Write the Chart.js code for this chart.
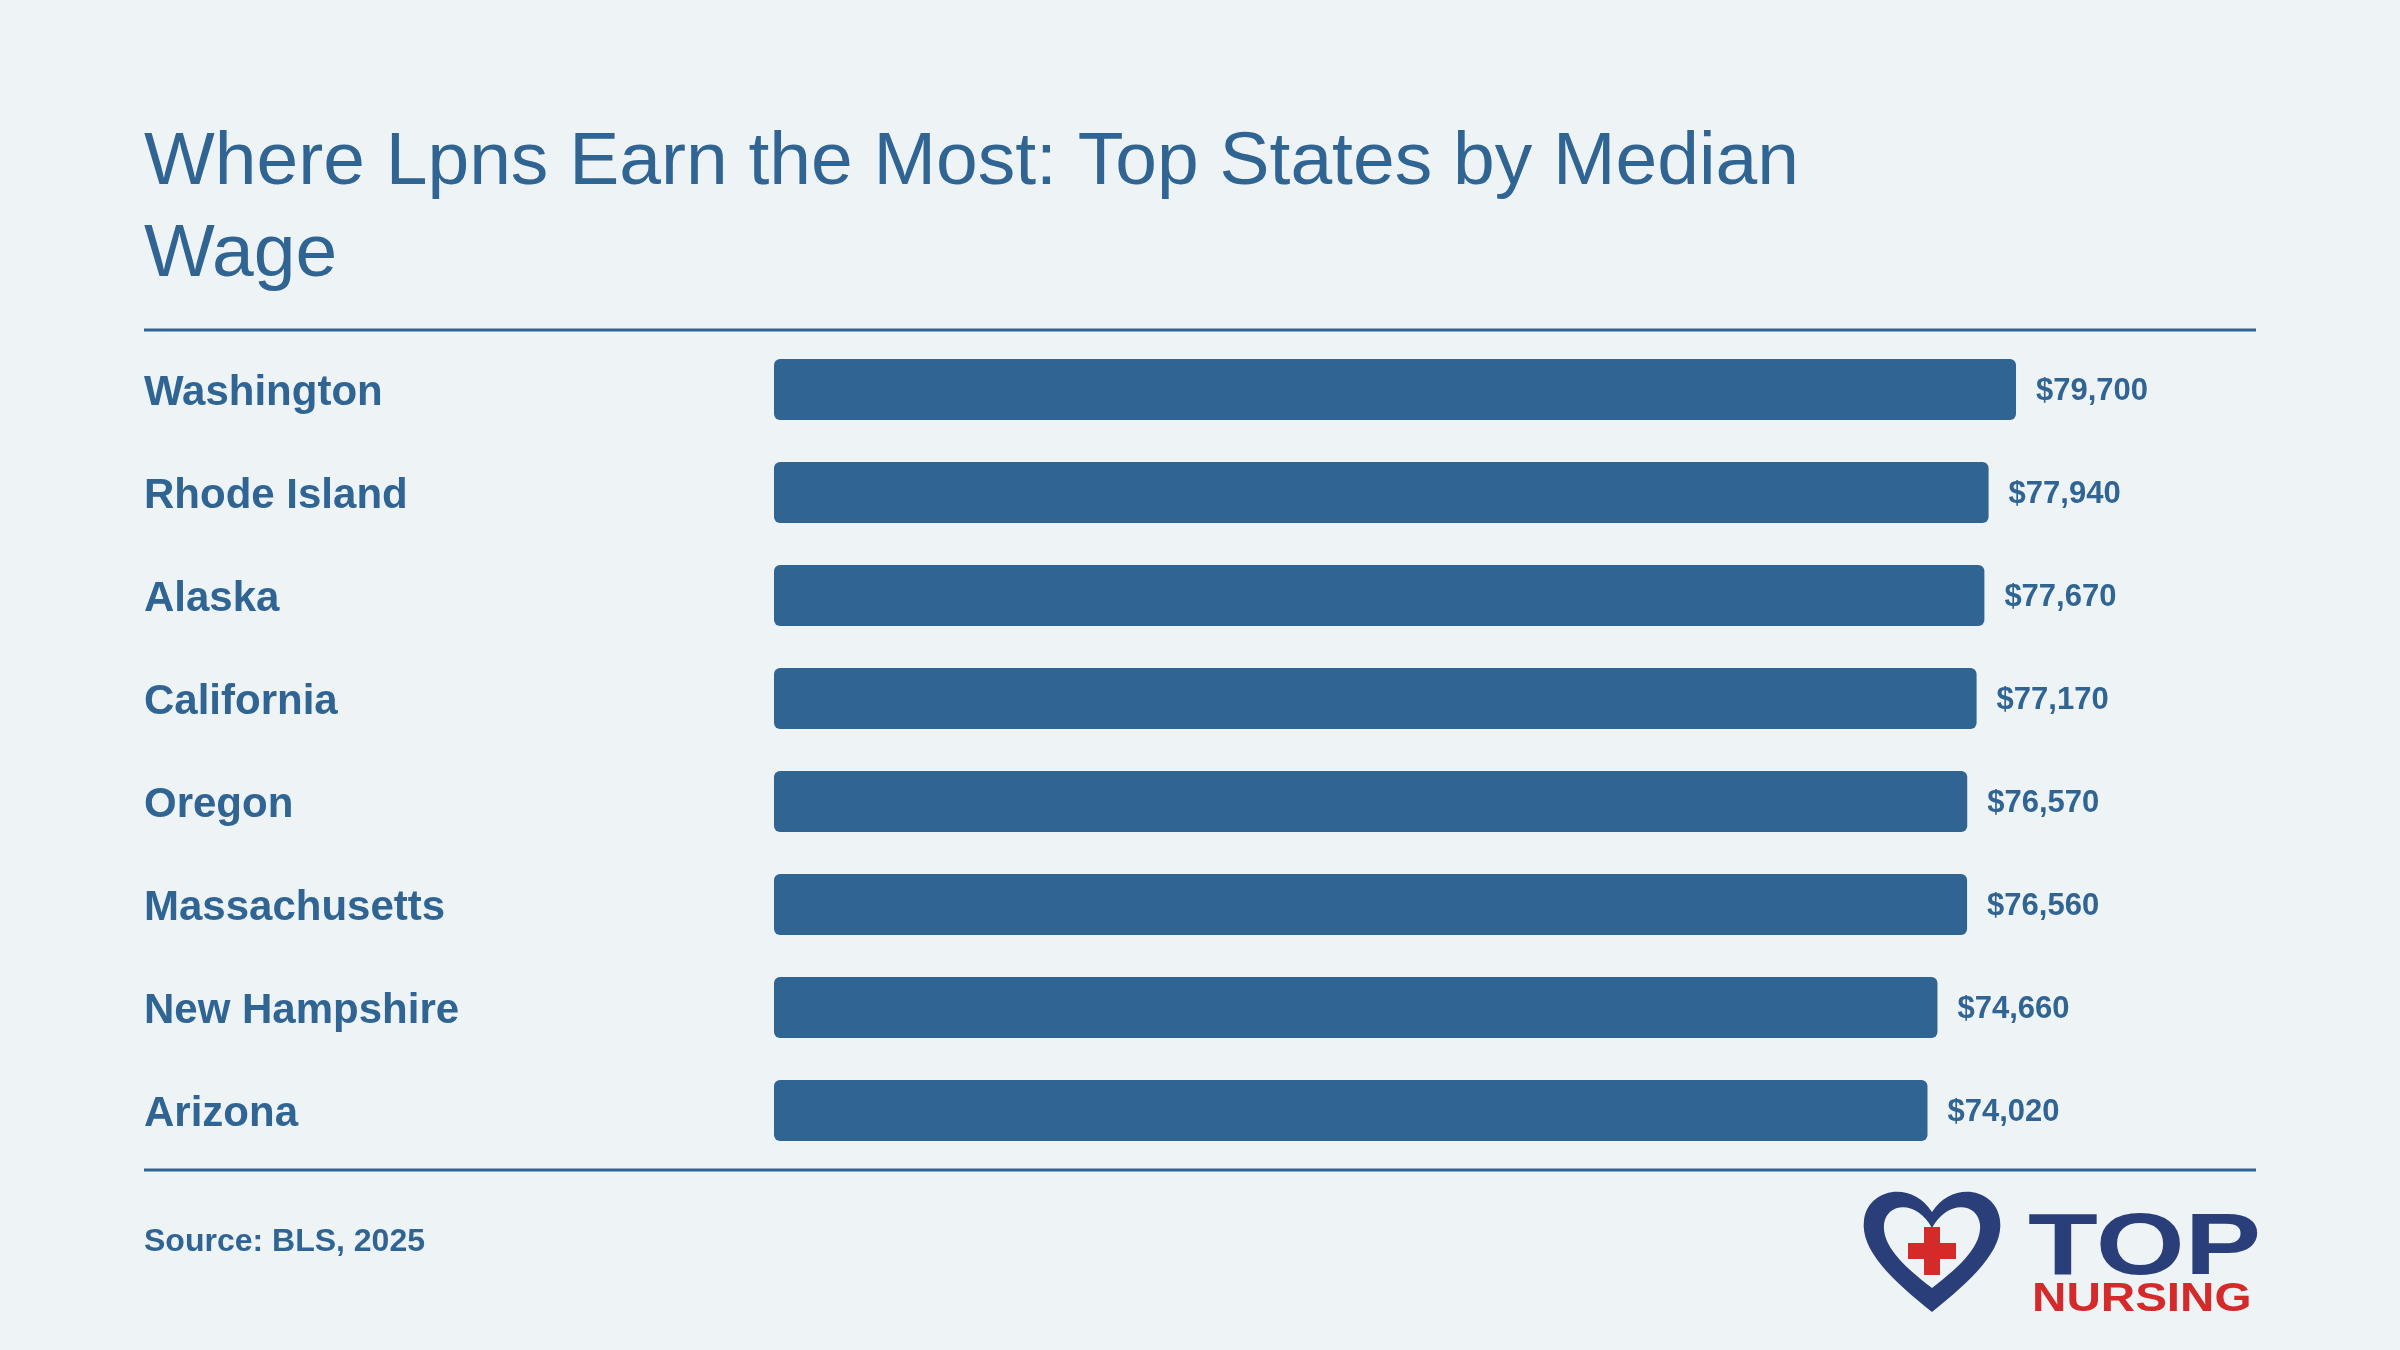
<!DOCTYPE html>
<html><head><meta charset="utf-8">
<script src="https://cdn.jsdelivr.net/npm/chart.js@4"></script>
<style>html,body{margin:0;padding:0;background:#eef3f6;}canvas{display:block;}</style>
</head><body>
<canvas id="c" width="2400" height="1350"></canvas>
<script>
const states = ["Washington","Rhode Island","Alaska","California","Oregon","Massachusetts","New Hampshire","Arizona"];
const wages = [79700,77940,77670,77170,76570,76560,74660,74020];
const titleLines = ["Where Lpns Earn the Most: Top States by Median","Wage"];
const sourceText = "Source: BLS, 2025";
const BLUE = "#2f6493";
const FONT = "'Liberation Sans', Arial, sans-serif";

const deco = {
  id: "deco",
  beforeDraw(chart) {
    const ctx = chart.ctx;
    ctx.save();
    ctx.fillStyle = "#eef3f6";
    ctx.fillRect(0, 0, chart.width, chart.height);
    ctx.restore();
  },
  afterDraw(chart) {
    const ctx = chart.ctx, ys = chart.scales.y, xs = chart.scales.x;
    ctx.save();
    ctx.fillStyle = BLUE;
    ctx.textBaseline = "alphabetic";
    ctx.textAlign = "left";
    ctx.font = "75px " + FONT;
    ctx.fillText(titleLines[0], 144, 184);
    ctx.fillText(titleLines[1], 144, 276);
    ctx.strokeStyle = BLUE; ctx.lineWidth = 3;
    ctx.beginPath(); ctx.moveTo(144, 330); ctx.lineTo(2256, 330);
    ctx.moveTo(144, 1170); ctx.lineTo(2256, 1170); ctx.stroke();
    ctx.textBaseline = "middle";
    states.forEach((s, i) => {
      const y = ys.getPixelForValue(i);
      ctx.font = "bold 42px " + FONT;
      ctx.fillText(s, 144, y + 4);
      ctx.font = "bold 31px " + FONT;
      ctx.fillText("$" + wages[i].toLocaleString("en-US"), xs.getPixelForValue(wages[i]) + 20, y + 2);
    });
    ctx.textBaseline = "alphabetic";
    ctx.font = "bold 32px " + FONT;
    ctx.fillText(sourceText, 144, 1251);
    const cx = 1932, cy = 1250;
    ctx.fillStyle = "#2a3f7a";
    ctx.beginPath();
    ctx.moveTo(cx, cy + 62);
    ctx.bezierCurveTo(cx - 40, cy + 30, cx - 72, cy, cx - 68, cy - 30);
    ctx.bezierCurveTo(cx - 64, cy - 62, cx - 20, cy - 70, cx, cy - 38);
    ctx.bezierCurveTo(cx + 20, cy - 70, cx + 64, cy - 62, cx + 68, cy - 30);
    ctx.bezierCurveTo(cx + 72, cy, cx + 40, cy + 30, cx, cy + 62);
    ctx.fill();
    ctx.fillStyle = "#eef3f6";
    ctx.beginPath();
    ctx.moveTo(cx, cy + 38);
    ctx.bezierCurveTo(cx - 30, cy + 15, cx - 50, cy - 5, cx - 48, cy - 26);
    ctx.bezierCurveTo(cx - 45, cy - 48, cx - 15, cy - 50, cx, cy - 22);
    ctx.bezierCurveTo(cx + 15, cy - 50, cx + 45, cy - 48, cx + 48, cy - 26);
    ctx.bezierCurveTo(cx + 50, cy - 5, cx + 30, cy + 15, cx, cy + 38);
    ctx.fill();
    ctx.fillStyle = "#d42a2a";
    ctx.fillRect(cx - 24, cy - 7, 48, 16);
    ctx.fillRect(cx - 8, cy - 23, 16, 48);
    ctx.save();
    ctx.translate(2028, 1274); ctx.scale(1.3, 1);
    ctx.fillStyle = "#2a3f7a";
    ctx.font = "bold 88px " + FONT;
    ctx.fillText("TOP", 0, 0);
    ctx.restore();
    ctx.save();
    ctx.translate(2032, 1311); ctx.scale(1.19, 1);
    ctx.fillStyle = "#d42a2a";
    ctx.font = "bold 40px " + FONT;
    ctx.fillText("NURSING", 0, 0);
    ctx.restore();
    ctx.restore();
  }
};

new Chart(document.getElementById("c"), {
  type: "bar",
  data: { labels: states, datasets: [{ data: wages, backgroundColor: BLUE, borderRadius: 6, borderSkipped: false,
    barPercentage: 0.59, categoryPercentage: 1 }] },
  options: {
    indexAxis: "y", responsive: false, devicePixelRatio: 1, animation: false,
    layout: { padding: { left: 774, right: 144, top: 338, bottom: 188 } },
    plugins: { legend: { display: false }, tooltip: { enabled: false } },
    scales: {
      x: { display: false, min: 0, max: 95100 },
      y: { display: false }
    }
  },
  plugins: [deco]
});
</script>
</body></html>
